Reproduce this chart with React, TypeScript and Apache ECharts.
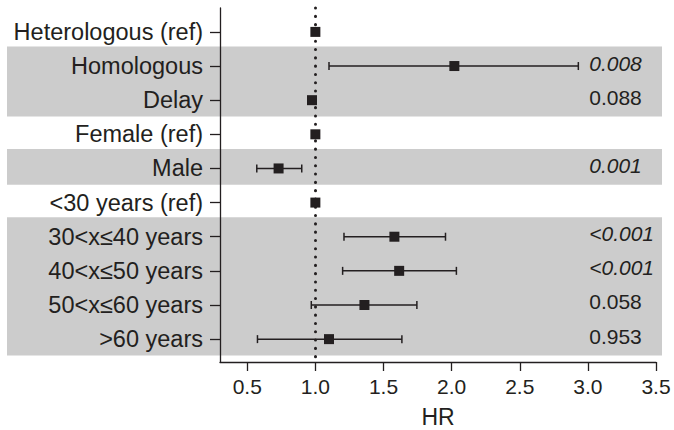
import React, { useEffect, useRef } from "react";
import * as echarts from "echarts";

const rowLabels = [
  "Heterologous (ref)",
  "Homologous",
  "Delay",
  "Female (ref)",
  "Male",
  "<30 years (ref)",
  "30<x≤40 years",
  "40<x≤50 years",
  "50<x≤60 years",
  ">60 years",
];
const hrValues = [1.0, 2.02, 0.975, 1.0, 0.73, 1.0, 1.58, 1.615, 1.36, 1.1];
const ciLow: (number | null)[] = [null, 1.1, 0.945, null, 0.57, null, 1.21, 1.2, 0.97, 0.575];
const ciHigh: (number | null)[] = [null, 2.93, 1.005, null, 0.9, null, 1.955, 2.035, 1.745, 1.635];
const pValues = ["", "0.008", "0.088", "", "0.001", "", "<0.001", "<0.001", "0.058", "0.953"];
const pSignificant = [false, true, false, false, true, false, true, true, false, false];
// shaded row groups (1-based row numbers, first and last)
const shadedGroups = [
  [2, 3],
  [5, 5],
  [7, 10],
];
const xTicks = [0.5, 1.0, 1.5, 2.0, 2.5, 3.0, 3.5];

const FONT = "Liberation Sans, Arial, sans-serif";
const INK = "#231f20";

export default function App() {
  const ref = useRef<HTMLDivElement>(null);
  useEffect(() => {
    if (!ref.current) return;
    const chart = echarts.init(ref.current, undefined, { renderer: "svg" });
    const rows = rowLabels.map((_, i) => i + 1);
    const yMin = 0.3;
    const yMax = 10.67;
    const pX = 3.01;

    const ciData = rows
      .map((r, i) => (ciLow[i] != null && ciHigh[i] != null ? [ciLow[i], ciHigh[i], r] : null))
      .filter((d) => d !== null);

    const option: any = {
      animation: false,
      textStyle: { fontFamily: FONT },
      grid: [
        { left: 220, right: 18, top: 8, bottom: 68, containLabel: false, outerBoundsMode: "none" },
        { left: 7, right: 12, top: 8, bottom: 68, containLabel: false, outerBoundsMode: "none" },
      ],
      xAxis: [
        {
          gridIndex: 0,
          type: "value",
          z: 10,
          min: 0.3,
          max: 3.5,
          name: "HR",
          nameLocation: "middle",
          nameGap: 43,
          nameTextStyle: { fontSize: 23, color: INK, fontFamily: FONT },
          axisLine: { show: true, onZero: false, lineStyle: { color: INK, width: 1.3 } },
          axisTick: { show: true, customValues: xTicks, length: 9, lineStyle: { color: INK, width: 1.3 } },
          axisLabel: {
            customValues: xTicks,
            formatter: (v: number) => v.toFixed(1),
            fontSize: 21,
            color: INK,
            margin: 14,
            fontFamily: FONT,
          },
          splitLine: { show: false },
        },
        {
          gridIndex: 1,
          type: "value",
          min: 0,
          max: 1,
          show: false,
        },
      ],
      yAxis: [
        {
          gridIndex: 0,
          type: "value",
          z: 10,
          inverse: true,
          min: yMin,
          max: yMax,
          axisLine: { show: true, onZero: false, lineStyle: { color: INK, width: 1.3 } },
          axisTick: { show: true, customValues: rows, length: 10, lineStyle: { color: INK, width: 1.3 } },
          axisLabel: {
            customValues: rows,
            formatter: (v: number) => rowLabels[Math.round(v) - 1] || "",
            fontSize: 23.5,
            color: INK,
            margin: 17,
            fontFamily: FONT,
          },
          splitLine: { show: false },
        },
        {
          gridIndex: 1,
          type: "value",
          inverse: true,
          min: yMin,
          max: yMax,
          show: false,
        },
      ],
      series: [
        {
          type: "line",
          xAxisIndex: 1,
          yAxisIndex: 1,
          data: [],
          z: -5,
          silent: true,
          markArea: {
            silent: true,
            z: -5,
            itemStyle: { color: "#cccccc", opacity: 1 },
            data: shadedGroups.map(([a, b]) => [{ yAxis: a - 0.57 }, { yAxis: b + 0.48 }]),
          },
        },
        {
          type: "custom",
          xAxisIndex: 0,
          yAxisIndex: 0,
          data: ciData,
          encode: { x: [0, 1], y: 2 },
          z: 3,
          renderItem: (params: any, api: any) => {
            const lo = api.value(0);
            const hi = api.value(1);
            const y = api.value(2);
            const p1 = api.coord([lo, y]);
            const p2 = api.coord([hi, y]);
            const cap = 4;
            const style = { stroke: INK, lineWidth: 1.5 };
            return {
              type: "group",
              children: [
                { type: "line", shape: { x1: p1[0], y1: p1[1], x2: p2[0], y2: p2[1] }, style },
                { type: "line", shape: { x1: p1[0], y1: p1[1] - cap, x2: p1[0], y2: p1[1] + cap }, style },
                { type: "line", shape: { x1: p2[0], y1: p2[1] - cap, x2: p2[0], y2: p2[1] + cap }, style },
              ],
            };
          },
        },
        {
          type: "scatter",
          xAxisIndex: 0,
          yAxisIndex: 0,
          symbol: "rect",
          symbolSize: 10,
          z: 4,
          itemStyle: { color: INK, opacity: 1 },
          data: rows.map((r, i) => [hrValues[i], r]),
          markLine: {
            silent: true,
            z: 2,
            symbol: "none",
            label: { show: false },
            lineStyle: { color: INK, width: 3, type: [0.1, 8.2], cap: "round", opacity: 1 },
            data: [{ xAxis: 1 }],
          },
        },
        {
          type: "scatter",
          xAxisIndex: 0,
          yAxisIndex: 0,
          symbolSize: 0,
          z: 5,
          silent: true,
          itemStyle: { opacity: 1 },
          data: rows
            .map((r, i) =>
              pValues[i]
                ? {
                    value: [pX, r],
                    name: pValues[i],
                    label: { fontStyle: pSignificant[i] ? "italic" : "normal" },
                  }
                : null
            )
            .filter((d) => d !== null),
          label: {
            show: true,
            position: "right",
            distance: 0,
            offset: [0, -3],
            formatter: (p: any) => p.name,
            fontSize: 21,
            color: INK,
            opacity: 1,
            fontFamily: FONT,
          },
        },
      ],
    };
    chart.setOption(option);
    return () => chart.dispose();
  }, []);
  return <div ref={ref} style={{ position: "absolute", left: 0, top: 0, width: 674, height: 430 }} />;
}
